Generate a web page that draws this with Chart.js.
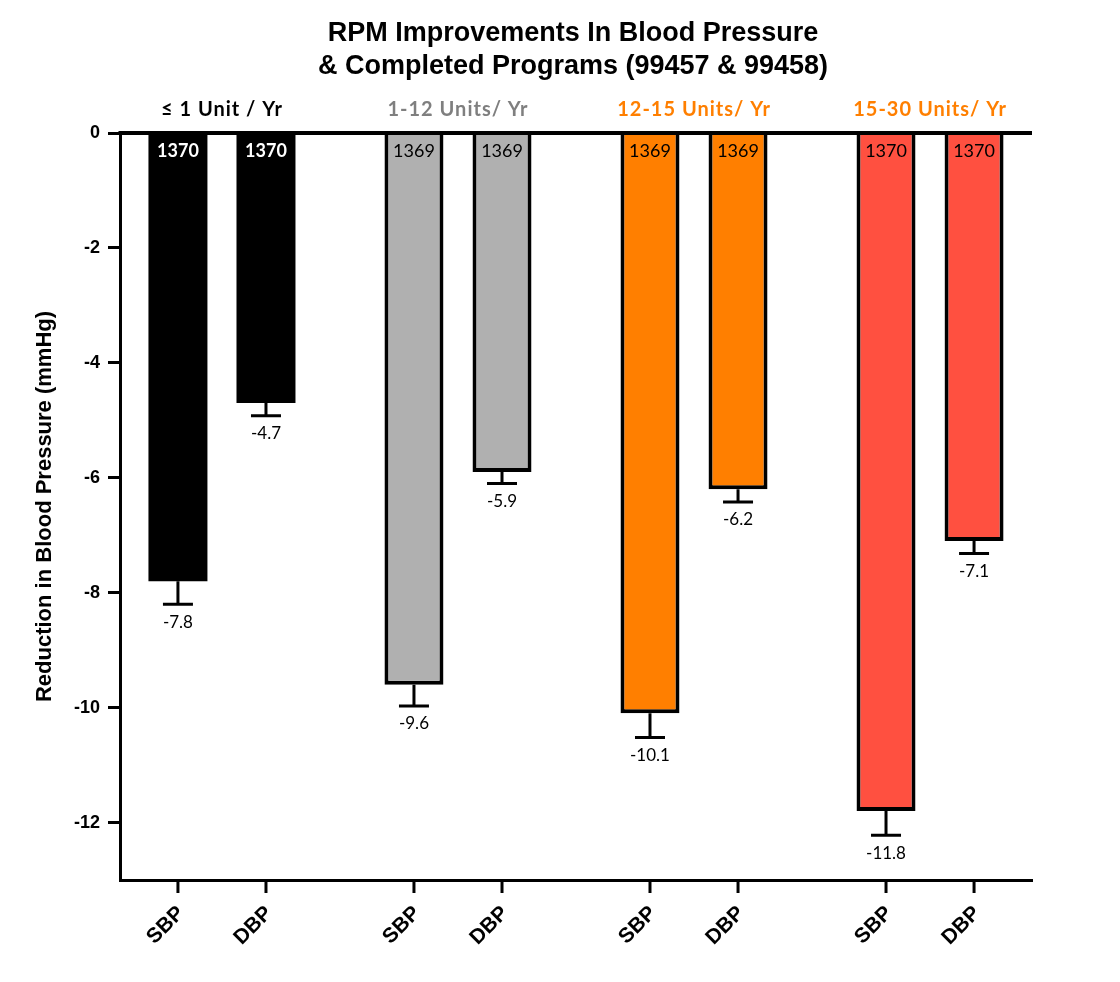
<!DOCTYPE html>
<html>
<head>
<meta charset="utf-8">
<script src="https://cdn.jsdelivr.net/npm/chart.js@4"></script>
<style>
  html, body { margin: 0; padding: 0; background: #fff; }
  #wrap { width: 1120px; height: 982px; }
</style>
</head>
<body>
<div id="wrap"><canvas id="bpChart" width="1120" height="982"></canvas></div>
<script>
// groups and values
const groups = ["\u2264 1 Unit / Yr", "1-12 Units/ Yr", "12-15 Units/ Yr", "15-30 Units/ Yr"];
const groupColors = ["#000000", "#b0b0b0", "#ff7f00", "#ff5040"];
const headerColors = ["#000000", "#7f7f7f", "#ff7f00", "#ff7f00"];
const measures = ["SBP", "DBP"];
const sbp = [-7.8, -9.6, -10.1, -11.8];
const dbp = [-4.7, -5.9, -6.2, -7.1];
const sbpErr = [0.4, 0.37, 0.42, 0.42];
const dbpErr = [0.22, 0.2, 0.22, 0.22];
const sbpN = [1370, 1369, 1369, 1370];
const dbpN = [1370, 1369, 1369, 1370];
const yTicks = [0, -2, -4, -6, -8, -10, -12];
const titleLines = ["RPM Improvements In Blood Pressure", "& Completed Programs (99457 & 99458)"];

const values = [sbp, dbp];
const errs = [sbpErr, dbpErr];
const counts = [sbpN, dbpN];

const labelFont = "Lato, 'Open Sans', sans-serif";
const arial = "'Liberation Sans', Arial, sans-serif";

// title, error bars, value labels, n inside bars, group headers, x ticks
const annotate = {
  id: "annotate",
  afterDatasetsDraw(chart) {
    const { ctx, chartArea: a, scales: { y } } = chart;
    const y0 = y.getPixelForValue(0);
    ctx.save();
    ctx.strokeStyle = "#000";
    ctx.lineCap = "butt";

    // title
    ctx.fillStyle = "#000";
    ctx.font = "bold 27px " + arial;
    ctx.textAlign = "center";
    ctx.textBaseline = "middle";
    titleLines.forEach((t, k) => ctx.fillText(t, (a.left + a.right) / 2 - 3, 34 + k * 33));

    // zero line on top
    ctx.lineWidth = 4;
    ctx.beginPath();
    ctx.moveTo(a.left - 1.5, y0);
    ctx.lineTo(a.right, y0);
    ctx.stroke();

    values.forEach((vals, d) => {
      const meta = chart.getDatasetMeta(d);
      meta.data.forEach((bar, i) => {
        const yEnd = y.getPixelForValue(vals[i] - errs[d][i]);
        ctx.lineWidth = 3;
        ctx.beginPath();
        ctx.moveTo(bar.x, bar.y);
        ctx.lineTo(bar.x, yEnd);
        ctx.moveTo(bar.x - 15, yEnd);
        ctx.lineTo(bar.x + 15, yEnd);
        ctx.stroke();

        ctx.fillStyle = "#000";
        ctx.font = "17px " + labelFont;
        ctx.textAlign = "center";
        ctx.textBaseline = "middle";
        ctx.fillText(vals[i].toFixed(1), bar.x, yEnd + 18);

        ctx.fillStyle = i === 0 ? "#fff" : "#000";
        ctx.font = (i === 0 ? "bold " : "") + "18px " + labelFont;
        ctx.fillText(String(counts[d][i]), bar.x, y0 + 18);

        // x tick + rotated label
        ctx.lineWidth = 3;
        ctx.beginPath();
        ctx.moveTo(bar.x, a.bottom);
        ctx.lineTo(bar.x, a.bottom + 13);
        ctx.stroke();
        ctx.save();
        ctx.translate(bar.x + 3, a.bottom + 30);
        ctx.rotate(-Math.PI / 4);
        ctx.fillStyle = "#000";
        ctx.font = "bold 21px " + arial;
        ctx.textAlign = "right";
        ctx.textBaseline = "middle";
        ctx.fillText(measures[d], 0, 0);
        ctx.restore();
      });
    });

    // group headers
    const m0 = chart.getDatasetMeta(0).data;
    const m1 = chart.getDatasetMeta(1).data;
    groups.forEach((g, i) => {
      const cx = (m0[i].x + m1[i].x) / 2;
      ctx.fillStyle = headerColors[i];
      ctx.font = "bold 20px " + labelFont;
      ctx.letterSpacing = "1px";
      ctx.textAlign = "center";
      ctx.textBaseline = "middle";
      ctx.fillText(g, cx, y0 - 23);
    });
    ctx.restore();
  }
};

const datasets = measures.map((m, d) => ({
  label: m,
  data: values[d].map((v, i) => ({ x: i, y: v })),
  backgroundColor: groupColors,
  borderColor: "#000",
  // black bars need no outline (avoids a grey seam)
  borderWidth: groupColors.map((c) => (c === "#000000" ? 0 : 4)),
  borderSkipped: "start",
  barPercentage: 0.67,
  categoryPercentage: 0.746,
}));

new Chart("bpChart", {
  type: "bar",
  data: { datasets },
  plugins: [annotate],
  options: {
    responsive: false,
    animation: false,
    layout: { padding: { left: 28, right: 88, top: 133, bottom: 0 } },
    plugins: {
      legend: { display: false },
      tooltip: { enabled: false },
      title: { display: false },
    },
    scales: {
      x: {
        type: "linear",
        min: -0.432,
        max: 3.432,
        offset: false,
        afterBuildTicks: (s) => { s.ticks = groups.map((g, i) => ({ value: i })); },
        grid: { display: false },
        border: { display: true, color: "#000", width: 3 },
        ticks: { display: false },
        afterFit: (s) => { s.height = 102; },
      },
      y: {
        min: -13,
        max: 0,
        afterBuildTicks: (s) => { s.ticks = yTicks.map((v) => ({ value: v })); },
        grid: { drawOnChartArea: false, drawTicks: true, tickLength: 12, tickWidth: 3, color: "#000" },
        border: { display: true, color: "#000", width: 3 },
        ticks: {
          color: "#000",
          padding: 8,
          font: { family: arial, size: 18, weight: "bold" },
        },
        title: {
          display: true,
          text: "Reduction in Blood Pressure (mmHg)",
          color: "#000",
          font: { family: arial, size: 22, weight: "bold" },
        },
        afterFit: (s) => { s.width = 92; },
      },
    },
  },
});
</script>
</body>
</html>
